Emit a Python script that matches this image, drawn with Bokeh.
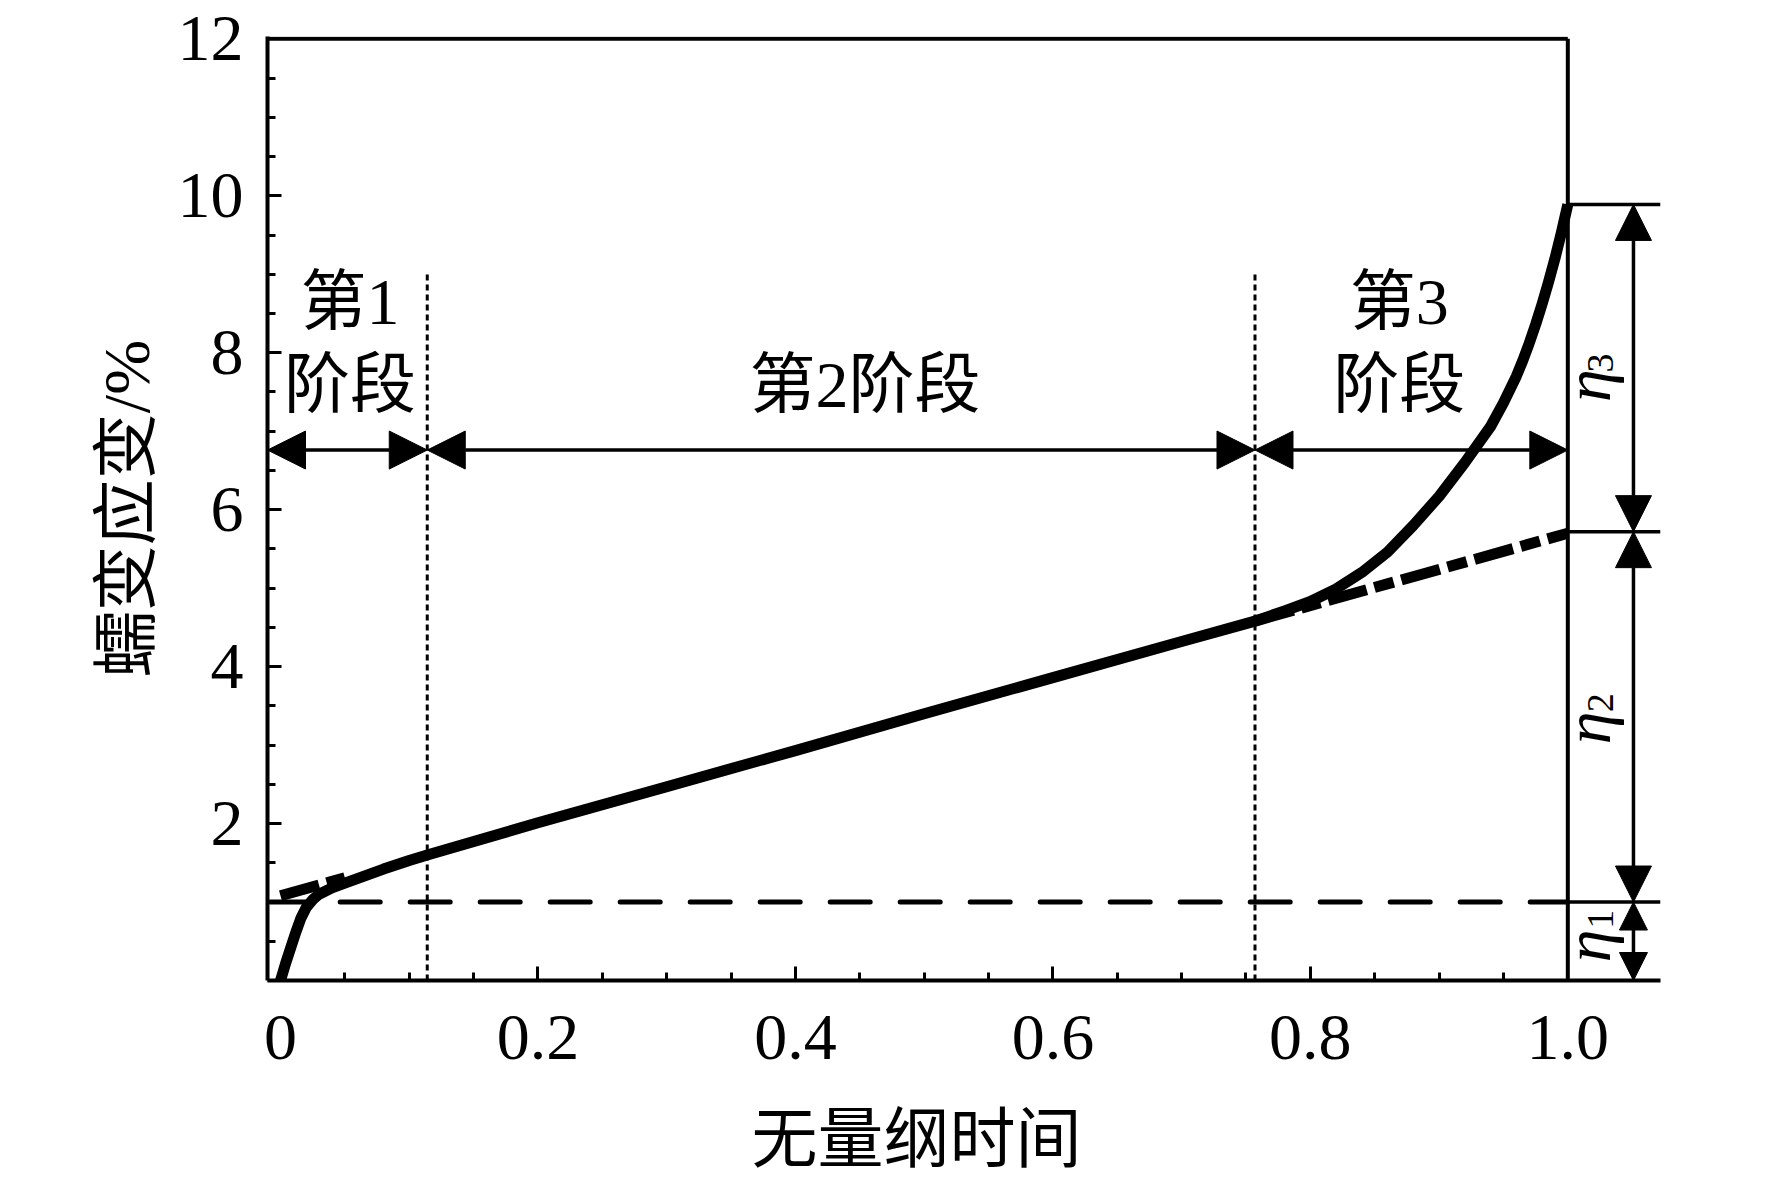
import math
from bokeh.plotting import figure
from bokeh.layouts import column
from bokeh.models import Range1d, FixedTicker, Arrow, NormalHead, ColumnDataSource
from bokeh.embed import file_html
from bokeh.resources import INLINE
from bokeh.core.properties import value

# ---------------- data ----------------
creep_x = [0.0, 0.004, 0.008, 0.012, 0.016, 0.02, 0.025, 0.03, 0.04, 0.05, 0.065, 0.08,
           0.1, 0.114, 0.2, 0.3, 0.4, 0.5, 0.6, 0.7, 0.757, 0.78, 0.80, 0.82, 0.84, 0.86,
           0.88, 0.90, 0.92, 0.94, 0.95, 0.96, 0.965, 0.97, 0.975, 0.98, 0.985, 0.99,
           0.995, 1.0]
creep_y = [0.0, 0.22, 0.42, 0.62, 0.80, 0.93, 1.03, 1.10, 1.18, 1.24, 1.33, 1.42,
           1.53, 1.60, 2.01, 2.47, 2.93, 3.40, 3.86, 4.32, 4.58, 4.71, 4.83, 4.99, 5.20, 5.46,
           5.80, 6.17, 6.60, 7.06, 7.36, 7.70, 7.90, 8.12, 8.36, 8.62, 8.90, 9.20,
           9.53, 9.89]

early_tangent_x = [0.0, 0.05]
early_tangent_y = [1.08, 1.31]
steady_ext_x = [0.757, 1.0]
steady_ext_y = [4.58, 5.70]

primary_ref_x = [-0.008, 1.0]
primary_ref_y = [1.0, 1.0]

stage_bounds = [0.114, 0.757]
stage_bound_top = 9.0

eta_levels = [1.0, 5.72, 9.89]
eta_ext_end = 1.072

stage_arrow_y = 6.76
stage_arrow_x0 = [-0.0101, 0.114, 0.757]
stage_arrow_x1 = [0.114, 0.757, 1.0]

eta_arrow_x = 1.051
eta_arrow_big_y0 = [5.72, 1.0]
eta_arrow_big_y1 = [9.89, 5.72]
eta_arrow_small_y0 = [0.0]
eta_arrow_small_y1 = [1.0]

stage_text = ["第1", "阶段", "第2阶段", "第3", "阶段"]
stage_text_x = [0.054, 0.054, 0.454, 0.869, 0.869]
stage_text_y = [8.65, 7.60, 7.60, 8.65, 7.60]

eta_text_x = [1.0153, 1.0153, 1.0153]
eta_text_y = [0.44, 3.22, 7.58]
eta_sub_text = ["1", "2", "3"]
eta_sub_x = [1.0254, 1.0254, 1.0254]
eta_sub_y = [0.78, 3.54, 7.87]

x_ticks = [0, 0.2, 0.4, 0.6, 0.8, 1.0]
x_tick_labels = ["0", "0.2", "0.4", "0.6", "0.8", "1.0"]
x_minor_ticks = [0.05, 0.1, 0.15, 0.25, 0.3, 0.35, 0.45, 0.5, 0.55,
                 0.65, 0.7, 0.75, 0.85, 0.9, 0.95]
y_ticks = [0, 2, 4, 6, 8, 10, 12]
y_tick_labels = ["", "2", "4", "6", "8", "10", "12"]
y_minor_ticks = [0.5, 1, 1.5, 2.5, 3, 3.5, 4.5, 5, 5.5, 6.5, 7, 7.5,
                 8.5, 9, 9.5, 10.5, 11, 11.5]

x_title = "无量纲时间"
x_title_pos = (0.494, 0.5)
y_title = "蠕变应变/%"

# ---------------- figure ----------------
SERIF = "Liberation Serif"
MIXED = "Liberation Serif, Noto Sans CJK SC"

W = 1768
H_MAIN = 1100
H_TITLE = 78
FRAME_LEFT, FRAME_RIGHT, FRAME_TOP, FRAME_BOTTOM = 267, 1660, 36, 980

xr = Range1d(-0.0101, 1.072)
p = figure(width=W, height=H_MAIN,
           x_range=xr, y_range=Range1d(0, 12.03),
           output_backend="svg", toolbar_location=None,
           min_border_left=FRAME_LEFT, min_border_right=W - FRAME_RIGHT,
           min_border_top=FRAME_TOP, min_border_bottom=H_MAIN - FRAME_BOTTOM)
p.outline_line_color = None
p.xgrid.visible = False
p.ygrid.visible = False
p.background_fill_color = "white"
p.border_fill_color = "white"

for ax in (p.xaxis[0], p.yaxis[0]):
    ax.axis_line_width = 4
    ax.axis_line_color = "black"
    ax.major_tick_line_width = 3
    ax.minor_tick_line_width = 3
    ax.major_tick_line_color = "black"
    ax.minor_tick_line_color = "black"
    ax.major_tick_in = 14
    ax.major_tick_out = 0
    ax.minor_tick_in = 8
    ax.minor_tick_out = 0
    ax.major_label_text_font = SERIF
    ax.major_label_text_font_size = "66px"
    ax.major_label_text_color = "black"

p.xaxis.ticker = FixedTicker(ticks=x_ticks, minor_ticks=x_minor_ticks)
p.xaxis.major_label_overrides = dict(zip(x_ticks, x_tick_labels))
p.xaxis.major_label_standoff = 35
p.yaxis.ticker = FixedTicker(ticks=y_ticks, minor_ticks=y_minor_ticks)
p.yaxis.major_label_overrides = dict(zip(y_ticks, y_tick_labels))
p.yaxis.major_label_standoff = 24

p.yaxis.axis_label = y_title
p.yaxis.axis_label_text_font = MIXED
p.yaxis.axis_label_text_font_size = "66px"
p.yaxis.axis_label_text_font_style = "normal"
p.yaxis.axis_label_text_color = "black"
p.yaxis.axis_label_standoff = 12

# frame (top and right)
p.segment(x0=[-0.0101], y0=[12], x1=[1.0], y1=[12], line_width=4, line_color="black")
p.segment(x0=[1.0], y0=[0], x1=[1.0], y1=[12], line_width=4, line_color="black")

# reference lines on the right
p.segment(x0=[1.0] * len(eta_levels), y0=eta_levels,
          x1=[eta_ext_end] * len(eta_levels), y1=eta_levels,
          line_width=3.5, line_color="black")

# primary creep level (dashed)
p.line(primary_ref_x, primary_ref_y, line_width=5, line_color="black",
       line_dash="40 30", line_cap="round")

# stage boundaries (dotted)
p.segment(x0=stage_bounds, y0=[0] * len(stage_bounds), x1=stage_bounds,
          y1=[stage_bound_top] * len(stage_bounds),
          line_width=3, line_color="black", line_dash="6 4")

# tangent extensions (dash-dot)
p.line(early_tangent_x, early_tangent_y, line_width=11, line_color="black",
       line_dash="40 8 20 8")
p.line(steady_ext_x, steady_ext_y, line_width=11, line_color="black",
       line_dash="40 8 20 8")

# creep curve
p.line(creep_x, creep_y, line_width=11, line_color="black", line_join="round")

# stage arrows
hsrc = ColumnDataSource(dict(x0=stage_arrow_x0, x1=stage_arrow_x1,
                             y=[stage_arrow_y] * len(stage_arrow_x0)))
p.add_layout(Arrow(source=hsrc, x_start="x0", y_start="y", x_end="x1", y_end="y",
                   line_width=3.5, line_color="black",
                   start=NormalHead(size=38, fill_color="black", line_color="black", line_width=1),
                   end=NormalHead(size=38, fill_color="black", line_color="black", line_width=1)))

vsrc = ColumnDataSource(dict(y0=eta_arrow_big_y0, y1=eta_arrow_big_y1,
                             x=[eta_arrow_x] * len(eta_arrow_big_y0)))
p.add_layout(Arrow(source=vsrc, x_start="x", y_start="y0", x_end="x", y_end="y1",
                   line_width=3.5, line_color="black",
                   start=NormalHead(size=36, fill_color="black", line_color="black", line_width=1),
                   end=NormalHead(size=36, fill_color="black", line_color="black", line_width=1)))

ssrc = ColumnDataSource(dict(y0=eta_arrow_small_y0, y1=eta_arrow_small_y1,
                             x=[eta_arrow_x] * len(eta_arrow_small_y0)))
p.add_layout(Arrow(source=ssrc, x_start="x", y_start="y0", x_end="x", y_end="y1",
                   line_width=3.5, line_color="black",
                   start=NormalHead(size=28, fill_color="black", line_color="black", line_width=1),
                   end=NormalHead(size=28, fill_color="black", line_color="black", line_width=1)))

# stage texts
p.text(x=stage_text_x, y=stage_text_y, text=stage_text,
       text_font=value(MIXED), text_font_size="66px", text_color="black",
       text_align="center", text_baseline="middle")

# eta labels (rotated)
p.text(x=eta_text_x, y=eta_text_y, text=["η"] * len(eta_text_x), angle=math.pi / 2,
       text_font=value(SERIF), text_font_style="italic", text_font_size="66px",
       text_color="black", text_align="center", text_baseline="alphabetic")
p.text(x=eta_sub_x, y=eta_sub_y, text=eta_sub_text, angle=math.pi / 2,
       text_font=value(SERIF), text_font_size="38px",
       text_color="black", text_align="center", text_baseline="alphabetic")

# x-axis title strip, sharing the x range so the title sits under the 0..1 span
q = figure(width=W, height=H_TITLE, x_range=xr, y_range=Range1d(0, 1),
           output_backend="svg", toolbar_location=None,
           x_axis_location=None, y_axis_location=None,
           min_border_left=FRAME_LEFT, min_border_right=W - FRAME_RIGHT,
           min_border_top=0, min_border_bottom=0)
q.outline_line_color = None
q.xgrid.visible = False
q.ygrid.visible = False
q.background_fill_color = "white"
q.border_fill_color = "white"
q.text(x=[x_title_pos[0]], y=[x_title_pos[1]], text=[x_title],
       text_font=value(MIXED), text_font_size="66px", text_color="black",
       text_align="center", text_baseline="middle")

layout = column(p, q, spacing=0)
open("out.html", "w").write(file_html(layout, INLINE))
